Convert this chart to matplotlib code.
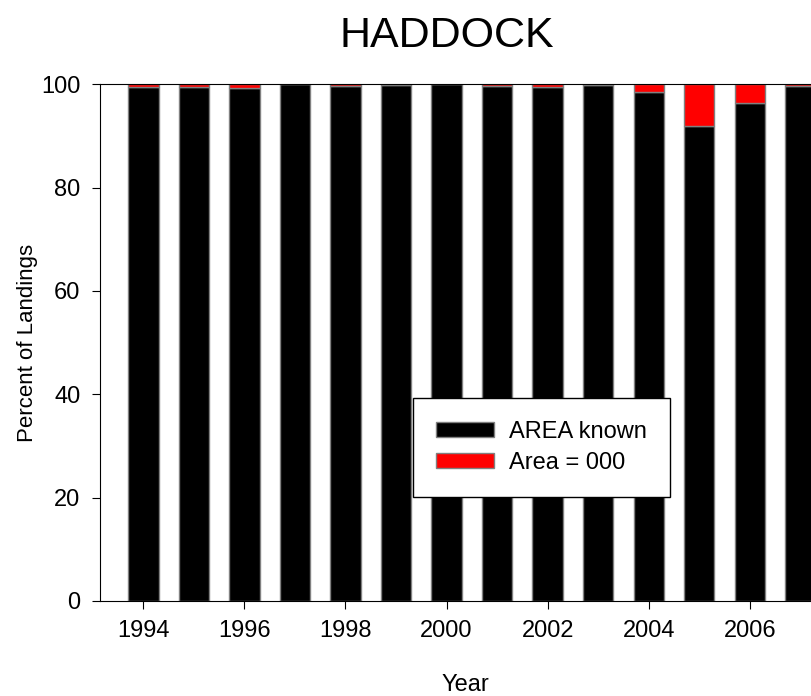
import matplotlib.pyplot as plt

plt.rcParams['font.family'] = ['Liberation Sans', 'DejaVu Sans']

years = [1994, 1995, 1996, 1997, 1998, 1999, 2000, 2001, 2002, 2003, 2004, 2005, 2006, 2007]
area_known = [99.5, 99.5, 99.3, 100.0, 99.7, 99.8, 100.0, 99.7, 99.4, 99.8, 98.4, 91.9, 96.3, 99.6]
area_000 = [100 - v for v in area_known]

fig = plt.figure(figsize=(8.12, 6.96), dpi=100)
ax = fig.add_axes([0.123, 0.1365, 0.90, 0.7425])

ax.bar(years, area_known, width=0.6, color='black', edgecolor='#808080',
       linewidth=1, label='AREA known')
ax.bar(years, area_000, width=0.6, bottom=area_known, color='red',
       edgecolor='#808080', linewidth=1, label='Area = 000')

ax.set_xlim(1993.14, 2007.6)
ax.set_ylim(0, 100)
ax.set_xticks(range(1994, 2007, 2))
ax.set_yticks(range(0, 101, 20))
ax.tick_params(direction='out', length=6, labelsize=17, pad=8)
ax.spines['right'].set_visible(False)

# title sits a bit left of the axes centre in the original
fig.text(447 / 812, 1 - 47 / 696, 'HADDOCK', fontsize=31,
         ha='center', va='baseline')
ax.set_ylabel('Percent of Landings', fontsize=16, labelpad=2)
ax.set_xlabel('Year', fontsize=17, labelpad=23)

leg = ax.legend(loc='lower left', bbox_to_anchor=(0.429, 0.202), fontsize=17,
                frameon=True, fancybox=False, edgecolor='black', framealpha=1,
                handlelength=2.45, handleheight=0.6, borderpad=0.97,
                labelspacing=0.37, handletextpad=0.65, borderaxespad=0)
leg.get_frame().set_linewidth(1)

fig.savefig('out.png', dpi=100)
